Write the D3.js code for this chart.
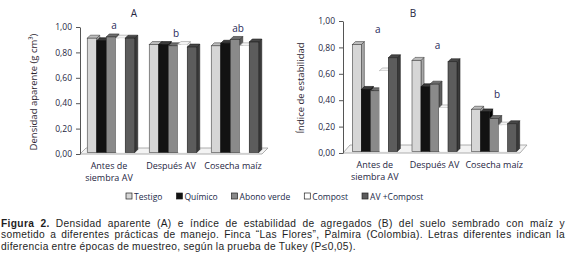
<!DOCTYPE html>
<html>
<head>
<meta charset="utf-8">
<script src="https://cdn.jsdelivr.net/npm/d3@7"></script>
<style>
  body { margin: 0; background: #fff; }
  svg { display: block; font-family: "Open Sans", sans-serif; }
</style>
</head>
<body>
<div id="chart"></div>
<script>
// data
var categories = ["Antes de siembra AV", "Después AV", "Cosecha maíz"];
var categoryLines = [["Antes de", "siembra AV"], ["Después AV"], ["Cosecha maíz"]];
var treatments = ["Testigo", "Químico", "Abono verde", "Compost", "AV +Compost"];
var densidad = [
  [0.90, 0.88, 0.91, 0.90, 0.90],
  [0.85, 0.85, 0.84, 0.85, 0.83],
  [0.84, 0.86, 0.89, 0.84, 0.87]
];
var estabilidad = [
  [0.81, 0.47, 0.46, 0.61, 0.71],
  [0.69, 0.49, 0.51, 0.33, 0.68],
  [0.32, 0.30, 0.25, 0.20, 0.21]
];
var lettersA = ["a", "b", "ab"];
var lettersB = ["a", "a", "b"];
var yTicks = [0, 0.2, 0.4, 0.6, 0.8, 1.0];
var captionLines = [
  "Figura 2. Densidad aparente (A) e índice de estabilidad de agregados (B) del suelo sembrado con maíz y",
  "sometido a diferentes prácticas de manejo. Finca “Las Flores”, Palmira (Colombia). Letras diferentes indican la",
  "diferencia entre épocas de muestreo, según la prueba de Tukey (P≤0,05)."
];

var fills = ["#d6d6d6", "#121212", "#8a8a8a", "#ffffff", "#5c5c5c"];
var sides = ["#a8a8a8", "#000000", "#5e5e5e", "#f4f4f4", "#3a3a3a"];
var tops  = ["#bdbdbd", "#3a3a3a", "#6e6e6e", "#f4f4f4", "#474747"];
var strokes = ["#444", "#111", "#333", "#9a9a9a", "#222"];
var textColor = "#26263f";

var svg = d3.select("#chart").append("svg")
  .attr("width", 566).attr("height", 260);

var fmt = function(d) { return d3.format(".2f")(d).replace(".", ","); };

function drawChart(c) {
  var g = svg.append("g");

  var y = d3.scaleLinear().domain([0, 1]).range([c.y0, c.y1]);
  var x = d3.scaleBand().domain(categories).range([c.x0, c.x1]).paddingInner(0).paddingOuter(0);
  var groupW = c.barW * treatments.length;
  var xs = d3.scaleBand().domain(treatments).range([0, groupW]).padding(0);

  // floor
  var fx0 = c.axisX, fx1 = c.x1 - 4;
  g.append("path")
    .attr("d", "M" + fx0 + "," + c.y0 + "L" + fx1 + "," + c.y0 +
      "L" + (fx1 + c.fdx) + "," + (c.y0 - c.fdy) + "L" + (fx0 + c.fdx) + "," + (c.y0 - c.fdy) + "Z")
    .attr("fill", "#f3f3f3").attr("stroke", "#9a9a9a").attr("stroke-width", 0.8);

  var base = c.y0 - 1.5, dx = 3, dy = 3;

  categories.forEach(function(cat, ci) {
    var gx = x(cat) + (x.bandwidth() - groupW) / 2;
    treatments.forEach(function(t, ti) {
      var v = c.values[ci][ti];
      var bx = gx + xs(t), bw = xs.bandwidth(), by = y(v) - (c.y0 - base);
      var bar = g.append("g");
      // side
      bar.append("path")
        .attr("d", "M" + (bx + bw) + "," + by + "L" + (bx + bw + dx) + "," + (by - dy) +
          "L" + (bx + bw + dx) + "," + (base - dy) + "L" + (bx + bw) + "," + base + "Z")
        .attr("fill", sides[ti]).attr("stroke", strokes[ti]).attr("stroke-width", 0.6);
      // top
      bar.append("path")
        .attr("d", "M" + bx + "," + by + "L" + (bx + dx) + "," + (by - dy) +
          "L" + (bx + bw + dx) + "," + (by - dy) + "L" + (bx + bw) + "," + by + "Z")
        .attr("fill", tops[ti]).attr("stroke", strokes[ti]).attr("stroke-width", 0.6);
      // front
      bar.append("rect")
        .attr("x", bx).attr("y", by).attr("width", bw).attr("height", base - by)
        .attr("fill", fills[ti])
        .attr("stroke", ti === 3 ? "none" : strokes[ti]).attr("stroke-width", 0.6);
    });

    // significance letter
    var top = y(d3.max(c.values[ci]));
    g.append("text")
      .attr("x", x(cat) + x.bandwidth() / 2 + c.letterDx)
      .attr("y", top - c.letterOffset)
      .attr("text-anchor", "middle")
      .attr("font-size", 10).attr("fill", "#2a2a5a")
      .text(c.letters[ci]);

    // category label
    var lab = g.append("text")
      .attr("text-anchor", "middle")
      .attr("font-size", 9).attr("fill", textColor);
    categoryLines[ci].forEach(function(line, li) {
      lab.append("tspan")
        .attr("x", x(cat) + x.bandwidth() / 2 + c.labelDx)
        .attr("y", c.y0 + 15 + li * 11.5)
        .text(line);
    });
  });

  // y axis
  var axis = g.append("g")
    .attr("transform", "translate(" + c.axisX + ",0)")
    .call(d3.axisLeft(y).tickValues(yTicks).tickFormat(fmt).tickSizeInner(4).tickSizeOuter(0).tickPadding(4));
  axis.select(".domain").attr("stroke", "#555");
  axis.selectAll(".tick line").attr("stroke", "#555");
  axis.selectAll(".tick text")
    .attr("font-family", "Open Sans, sans-serif").attr("font-size", 8.5).attr("fill", textColor);

  // title and y title
  g.append("text")
    .attr("x", c.titleX).attr("y", 17)
    .attr("text-anchor", "middle").attr("font-size", 10).attr("fill", textColor)
    .text(c.title);
  g.append("text")
    .attr("transform", "translate(" + c.yTitleX + "," + c.yTitleY + ") rotate(-90)")
    .attr("text-anchor", "middle").attr("font-size", c.yTitleSize).attr("fill", "#2b2430")
    .text(c.yTitle);
}

drawChart({
  x0: 80, x1: 266, y0: 154, y1: 27, axisX: 80, barW: 9.5, fdx: 6, fdy: 6,
  values: densidad, letters: lettersA, letterOffset: 9, letterDx: 3, labelDx: -2,
  title: "A", titleX: 134, yTitle: "Densidad aparente (g cm³)", yTitleX: 37, yTitleY: 92, yTitleSize: 9.5
});
drawChart({
  x0: 345, x1: 524, y0: 153, y1: 21, axisX: 343, barW: 9, fdx: 7, fdy: 8,
  values: estabilidad, letters: lettersB, letterOffset: 13, letterDx: 3, labelDx: 0,
  title: "B", titleX: 413, yTitle: "Índice de estabilidad", yTitleX: 304, yTitleY: 88, yTitleSize: 9.5
});

// legend
var lx = 126;
var legend = svg.append("g");
treatments.forEach(function(t, i) {
  legend.append("rect")
    .attr("x", lx).attr("y", 193).attr("width", 6).attr("height", 6)
    .attr("fill", fills[i]).attr("stroke", "#222").attr("stroke-width", 0.7);
  var tx = legend.append("text")
    .attr("x", lx + 8).attr("y", 199.5)
    .attr("font-size", 8.5).attr("fill", "#222a4a")
    .text(t);
  lx = lx + 8 + tx.node().getComputedTextLength() + 14;
});

// caption, justified like the printed page
var capFont = 10.2, capLeft = 1, capRight = 565;
captionLines.forEach(function(line, li) {
  var words = line.split(" ");
  var txt = svg.append("text")
    .attr("y", 226.5 + li * 11.5)
    .attr("font-family", "Liberation Sans, Arial, sans-serif")
    .attr("letter-spacing", 0.35)
    .attr("font-size", capFont).attr("fill", "#1e1e1e");
  var spans = words.map(function(w, wi) {
    return txt.append("tspan")
      .attr("font-weight", (li === 0 && wi < 2) ? "bold" : null)
      .text(w);
  });
  var widths = spans.map(function(s) { return s.node().getComputedTextLength(); });
  var total = d3.sum(widths);
  var gap = li < captionLines.length - 1 ?
    (capRight - capLeft - total) / (words.length - 1) : capFont * 0.28;
  var cx = capLeft;
  spans.forEach(function(s, i) {
    s.attr("x", cx);
    cx += widths[i] + gap;
  });
});
</script>
</body>
</html>
